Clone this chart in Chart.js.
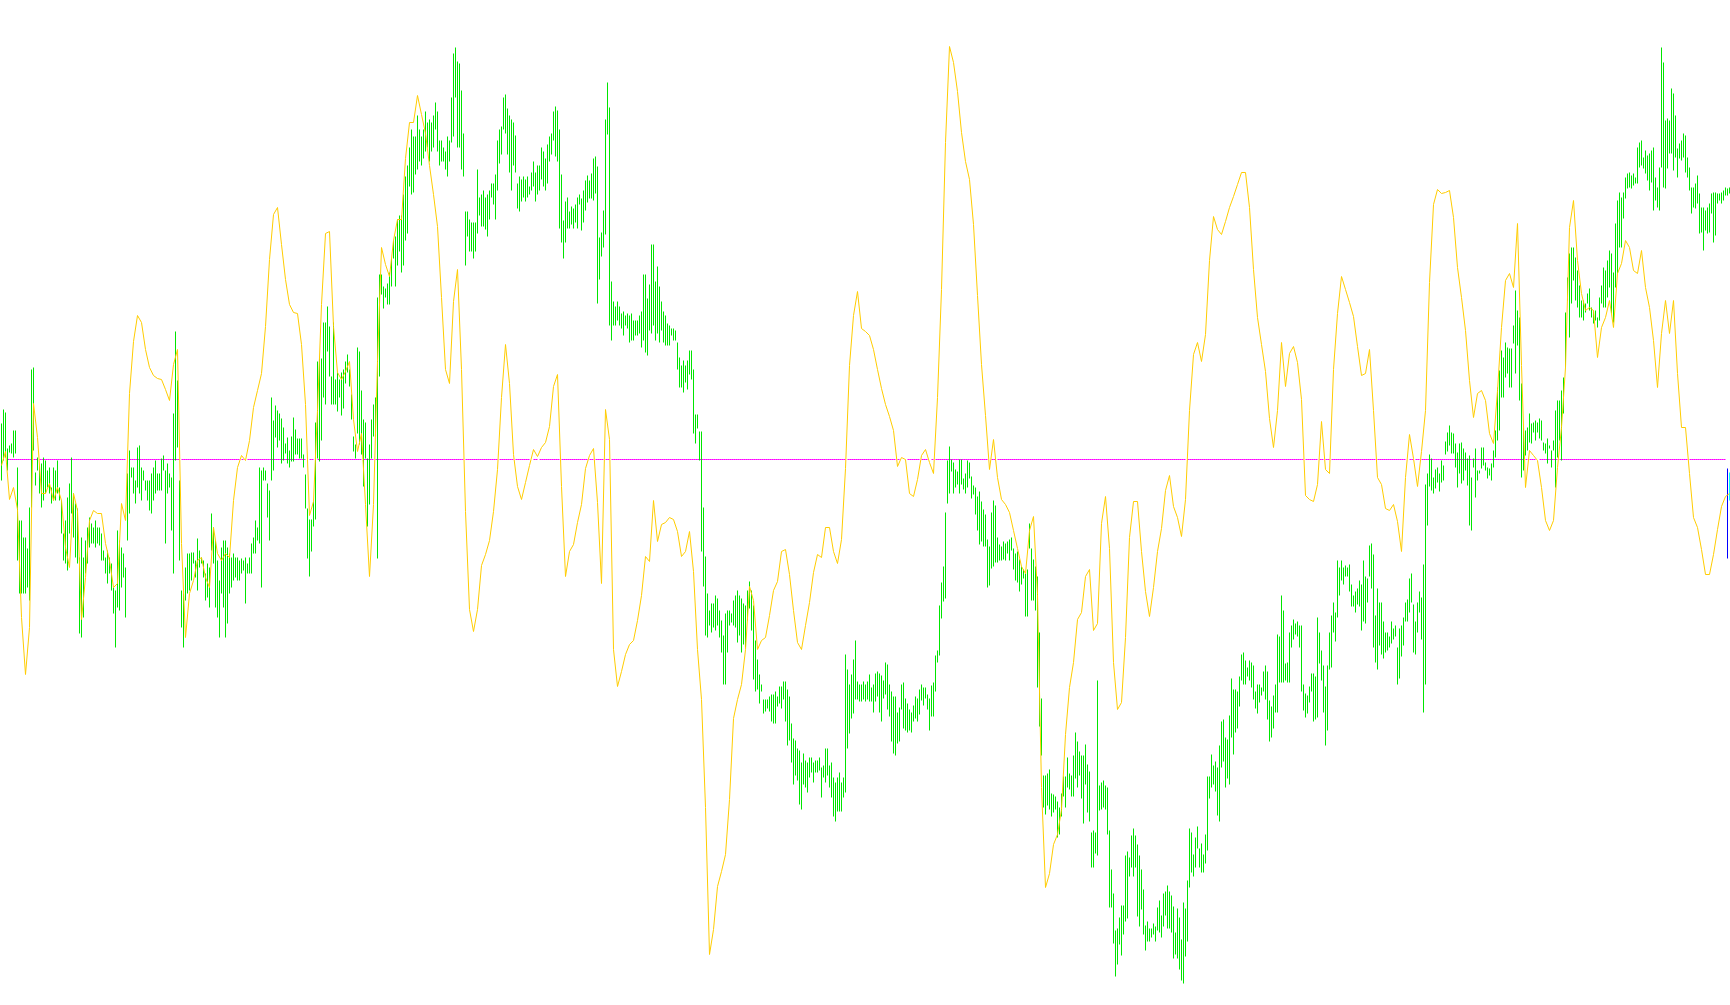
<!DOCTYPE html>
<html><head><meta charset="utf-8">
<script src="https://cdn.jsdelivr.net/npm/chart.js@4.4.1/dist/chart.umd.min.js"></script>
<style>html,body{margin:0;padding:0;background:#fff;overflow:hidden}#wrap{width:1730px;height:1005px;position:relative}</style>
</head><body><div id="wrap"><canvas id="c"></canvas></div>
<script>
// Green range bars: high and low of each bar (one bar per category index)
const barHigh = [
36,50,47,11,14,16,29,29,-8,-61,
-61,-78,-78,-89,-48,90,92,-13,2,-6,
-4,2,-1,-11,-8,-28,-8,-11,-1,-28,
-41,-74,-61,-38,-24,2,-34,-44,-49,-98,
-78,-98,-81,-68,-58,-64,-68,-61,-68,-68,
-74,-91,-98,-91,-98,-104,-128,-131,-71,-81,
-88,-94,-108,-14,9,-8,-8,-21,12,14,
-8,-11,-21,-21,-21,-14,-8,-1,-14,-14,
1,4,-11,-4,-14,-18,46,128,79,-21,
-131,-134,-108,-94,-94,-93,-93,-101,-79,-91,
-98,-101,-114,-104,-108,-54,-68,-81,-101,-121,
-88,-81,-81,-88,-94,-98,-94,-98,-98,-101,
-99,-101,-98,-104,-98,-84,-78,-61,-68,-8,
-11,-8,-11,-24,-31,62,39,54,49,46,
41,32,16,22,9,
23,42,30,21,21,21,5,-15,-49,-60,
-60,-42,37,98,101,101,137,137,153,133,
83,137,80,87,80,87,90,98,105,90,
65,23,15,112,108,69,40,37,1,15,
40,55,62,162,185,185,173,171,176,187,
201,219,223,240,244,244,265,283,294,312,
330,323,323,344,330,323,330,348,337,340,
337,344,357,348,319,319,312,308,323,319,
362,406,412,398,396,369,326,248,248,240,
237,237,237,290,262,265,269,262,265,269,
276,276,285,319,330,333,362,365,351,344,
340,337,324,276,283,280,283,280,283,273,
287,298,287,294,294,312,308,301,315,323,
326,348,353,349,330,285,239,258,262,248,
253,251,255,262,265,
261,269,279,284,279,286,301,303,293,222,
227,249,340,377,352,178,158,153,158,153,
146,148,144,146,144,146,139,139,139,144,
148,185,185,161,175,215,215,178,193,173,
158,148,144,136,134,131,131,129,117,102,
94,99,94,99,109,109,90,45,45,28,
28,-48,-97,-134,-151,-144,-144,-136,-139,-151,
-161,-176,-154,-151,-151,-154,-141,-136,-131,-136,
-139,-144,-146,-131,-122,-131,-146,-181,-200,-215,
-225,-240,-240,-240,-237,-235,-235,-232,-237,-227,
-227,-222,-222,-230,-237,-264,-279,-281,-289,-291,
-303,-294,-301,-303,-298,-298,-303,-301,-301,-298,
-308,-306,-289,-289,-306,-303,-318,-323,-318,-313,
-323,-318,-195,-210,-225,-215,-200,-181,-222,-225,
-225,-222,-225,-222,-215,
-228,-225,-214,-212,-214,-216,-221,-203,-205,-225,
-232,-237,-237,-253,-248,-225,-223,-239,-244,-250,
-253,-246,-237,-239,-230,-225,-228,-228,-235,-239,
-226,-223,-196,-191,-146,-123,-107,-53,-1,13,
0,-3,-10,-12,0,0,-19,-14,-1,-3,
-17,-26,-28,-37,-32,-42,-50,-55,-80,-87,
-53,-41,-46,-78,-85,-87,-82,-84,-82,-80,
-78,-89,-94,-92,-100,-107,-110,-114,-110,-64,
-89,-100,-107,-117,-173,-239,-316,-316,-314,-310,
-334,-335,-337,-342,-348,-334,-317,-317,-298,-314,
-316,-296,-273,-282,-292,-296,-296,-285,-305,-312,
-373,-371,-373,-221,-326,-323,-321,-326,-328,-371,
-410,-434,-471,-469,-458,-446,-446,-396,-392,-398,
-376,-369,-376,-385,-396,-410,-430,-466,-462,-469,
-469,-464,-467,-448,-441,
-456,-434,-432,-426,-432,-436,-447,-473,-449,-458,
-480,-443,-449,-421,-369,-373,-395,-378,-367,-389,
-384,-395,-375,-317,-317,-295,-306,-302,-308,-286,
-262,-260,-278,-280,-256,-219,-230,-230,-232,-217,
-195,-193,-201,-208,-201,-203,-206,-232,-225,-225,
-228,-212,-206,-212,-241,-247,-236,-225,-175,-177,
-136,-151,-204,-203,-173,-166,-160,-164,-162,-166,
-166,-225,-234,-236,-227,-214,-214,-217,-158,-173,
-191,-206,-227,-206,-173,-156,-143,-153,-101,-108,
-101,-108,-106,-108,-105,-125,-136,-132,-129,-121,
-125,-101,-117,-119,-86,-84,-95,-156,-129,-143,
-143,-162,-173,-173,-177,-162,-169,-166,-188,-169,
-166,-158,-143,-140,-119,-114,-145,-162,-143,-132,
-138,-105,-25,-14,5,1,-18,-10,-8,-14,
-1,-6,18,27,34,
27,26,16,7,16,17,11,7,1,4,
-18,1,11,-11,-11,12,12,-3,-8,-9,
-4,9,29,72,89,109,102,117,112,111,
111,134,169,149,142,76,32,29,32,46,
36,37,39,37,41,39,17,16,21,14,
9,19,49,59,59,69,82,147,182,206,
212,212,202,189,174,159,159,156,166,171,
152,149,149,142,162,174,192,189,199,209,
206,187,236,259,267,262,267,282,286,287,
284,286,282,312,317,319,302,309,304,306,
309,312,282,272,292,412,397,339,341,339,
371,366,344,311,316,319,326,324,302,292,
272,272,276,284,266,252,252,249,252,256,
266,267,267,266,266,267,269,272,271,272
];
const barLow = [
-21,-1,2,-11,7,6,2,6,-101,-134,
-134,-134,-134,-128,-141,-48,9,-26,-11,-34,
-48,-41,-34,-28,-34,-44,-41,-41,-34,-41,
-74,-101,-104,-111,-74,-54,-78,-98,-104,-174,
-178,-158,-114,-104,-88,-84,-84,-88,-84,-86,
-101,-101,-114,-124,-114,-131,-154,-188,-148,-151,
-128,-118,-158,-81,-54,-18,-34,-44,-28,-34,
-41,-21,-31,-41,-51,-54,-41,-34,-31,-31,
-31,-11,-84,-34,-28,-71,-114,-1,12,-101,
-168,-188,-141,-134,-131,-121,-104,-118,-131,-108,
-104,-118,-141,-138,-148,-91,-104,-148,-158,-178,
-134,-148,-178,-164,-134,-128,-121,-118,-121,-121,
-114,-111,-144,-114,-114,-114,-94,-94,-81,-84,
-128,-21,-21,-58,-81,-21,-11,22,12,19,
-4,-1,6,-4,-8,
-2,-2,5,5,1,1,-8,-49,-99,-117,
-92,-67,-60,1,-2,19,62,55,108,83,
55,55,55,48,62,44,51,76,87,73,
40,8,1,26,15,5,-27,1,-67,-45,
1,23,23,-99,83,165,151,162,155,155,
173,201,173,194,208,187,194,219,226,273,
265,267,285,290,298,294,301,308,312,298,
308,312,330,308,294,298,298,290,283,298,
317,323,362,312,312,290,283,194,223,208,
208,201,208,226,244,233,233,230,223,240,
262,255,240,269,296,305,330,326,305,287,
269,294,287,251,248,258,262,258,262,265,
269,273,258,265,269,280,273,269,276,298,
305,319,303,298,231,217,201,217,231,231,
235,231,237,231,255,
229,237,249,257,261,261,259,266,156,180,
203,212,225,325,134,119,134,134,139,134,
131,124,134,131,117,119,119,124,124,126,
112,119,107,104,129,126,134,119,126,117,
129,117,114,114,114,124,119,119,90,72,
72,67,77,70,85,80,26,16,31,-1,
-92,-127,-176,-178,-166,-173,-168,-171,-166,-178,
-193,-225,-225,-193,-166,-163,-166,-168,-183,-176,
-193,-185,-188,-161,-149,-171,-220,-232,-230,-244,
-232,-254,-252,-249,-252,-262,-264,-264,-247,-244,
-249,-240,-262,-286,-281,-303,-325,-316,-321,-345,
-350,-325,-328,-333,-318,-313,-323,-313,-313,-311,
-338,-318,-323,-316,-328,-338,-357,-362,-352,-352,
-352,-338,-333,-289,-274,-259,-254,-240,-240,-242,
-242,-240,-242,-240,-242,
-242,-253,-242,-237,-253,-262,-239,-235,-250,-257,
-282,-294,-296,-284,-282,-250,-269,-271,-273,-271,
-273,-262,-259,-262,-255,-241,-246,-239,-250,-271,
-257,-257,-232,-203,-196,-159,-142,-139,-44,-34,
-12,-34,-28,-25,-34,-25,-30,-34,-28,-19,
-39,-35,-55,-71,-85,-82,-87,-87,-128,-126,
-109,-107,-103,-103,-101,-101,-100,-101,-94,-101,
-91,-110,-121,-123,-132,-125,-119,-157,-157,-89,
-141,-141,-151,-228,-267,-296,-348,-355,-346,-350,
-357,-353,-350,-378,-375,-357,-337,-348,-328,-330,
-337,-337,-319,-328,-316,-339,-364,-325,-353,-362,
-408,-408,-394,-396,-351,-350,-348,-350,-375,-448,
-448,-484,-517,-505,-485,-496,-475,-462,-459,-417,
-408,-417,-408,-457,-467,-450,-475,-491,-482,-482,
-478,-475,-482,-471,-473,
-478,-467,-456,-469,-469,-473,-499,-495,-499,-510,
-521,-524,-497,-482,-428,-413,-417,-408,-389,-408,
-413,-413,-404,-391,-339,-328,-325,-332,-356,-362,
-308,-302,-328,-319,-325,-278,-295,-273,-269,-247,
-221,-225,-225,-217,-221,-228,-240,-249,-254,-243,
-236,-232,-240,-260,-282,-278,-269,-253,-253,-223,
-223,-223,-221,-223,-223,-188,-180,-175,-177,-188,
-232,-251,-258,-254,-243,-232,-262,-260,-258,-204,
-221,-253,-286,-271,-210,-208,-173,-182,-158,-136,
-121,-125,-117,-117,-132,-147,-147,-153,-145,-147,
-171,-162,-164,-143,-117,-129,-188,-203,-210,-186,
-195,-199,-193,-191,-188,-184,-180,-177,-225,-219,
-197,-186,-162,-162,-153,-143,-193,-195,-173,-153,
-180,-253,-225,-66,-27,-31,-34,-29,-23,-32,
-23,-21,5,8,14,
6,6,-8,-28,-14,-24,-21,-11,-26,-66,
-71,-8,-38,-21,-14,-9,-6,-11,-19,-16,
-21,-8,2,19,29,62,62,82,86,72,
72,116,86,114,59,-18,-11,4,9,17,
16,27,19,27,21,19,9,6,-4,11,
-8,9,-28,2,19,-1,46,92,159,122,
156,179,159,152,142,142,139,147,156,149,
142,136,139,132,139,156,152,152,162,172,
146,137,172,186,212,212,241,261,271,272,
271,274,276,276,292,294,291,286,279,269,
277,249,259,252,249,292,272,271,291,306,
306,289,302,282,301,299,302,287,282,269,
246,252,251,256,226,227,209,229,226,227,
246,217,224,256,259,256,259,264,264,266
];
// Gold signal line, one reading every `signalStep` bars
const signalStep = 2;
const signal = [
-6,8,-40,-28,-50,-158,-215,-168,56,22,
-34,-34,-24,-41,-28,-41,-88,-108,-34,-51,
-160,-118,-61,-51,-54,-54,-84,-101,-128,-124,
-44,-61,66,118,144,137,110,92,84,81,
80,70,59,95,110,-84,-178,-134,-121,-101,
-98,-118,-128,-68,-94,-101,-94,-98,-41,-8,
4,-1,19,52,69,86,133,200,245,252,
215,180,155,
147,146,115,55,-56,-42,49,155,226,228,
133,87,80,88,98,40,8,26,-45,-117,
-45,98,212,195,183,219,240,240,301,337,
337,364,345,326,294,265,233,162,90,76,
158,190,90,-52,-150,-172,-150,-106,-95,-81,
-52,-10,62,115,76,5,-27,-40,-23,-6,
10,3,12,17,33,73,85,-27,-117,-92,
-85,-63,
-45,-9,4,11,-43,-124,50,20,-190,-227,
-212,-195,-185,-181,-161,-136,-97,-102,-41,-82,
-65,-63,-58,-60,-72,-97,-92,-72,-112,-190,
-240,-348,-495,-470,-427,-412,-395,-340,-259,-240,
-225,-190,-127,-141,-190,-181,-178,-156,-131,-122,
-92,-90,-115,-151,-183,-190,-166,-143,-113,-95,
-98,-68,-68,-92,-104,-80,-9,94,144,168,
131,128,124,
110,90,71,55,43,29,-7,2,0,-34,
-37,-20,4,10,-3,-14,62,170,317,413,
397,368,327,298,280,235,164,95,44,-10,
20,-18,-40,-45,-53,-71,-89,-107,-114,-71,
-57,-135,-328,-428,-414,-385,-375,-350,-275,-228,
-203,-160,-153,-117,-110,-171,-164,-64,-37,-89,
-203,-250,-243,-178,-78,-42,-42,-92,-132,-157,
-128,-92,
-69,-31,-16,-47,-58,-77,-40,49,105,117,
98,125,199,243,230,225,238,252,263,275,
287,287,252,190,142,115,88,41,12,49,
117,73,106,113,97,60,-36,-40,-42,-25,
38,-10,-14,90,146,183,170,157,143,113,
84,86,110,49,-18,-25,-49,-51,-45,-62,
-92,-18,25,1,-27,8,49,177,255,270,
266,267,269,
242,192,162,129,79,42,66,69,59,26,
16,69,132,179,186,172,236,94,-28,9,
4,-1,-28,-61,-71,-61,-8,32,92,232,
259,199,166,149,152,149,102,132,142,159,
132,186,196,219,212,189,186,209,172,152,
119,72,126,159,126,159,86,32,32,-14,
-58,-68,-90,-115,-115,-95,-70,-47,-37,-34
];
const zeroLevel = 0;
const tailBlue = [-99, -9];
const tailCyan = [-41, -13];
const valueMin = -545.5, valueMax = 459.5;

const n = barHigh.length;
const bars = barHigh.map((h, i) => ({x: i, y: [barLow[i], h]}));
const sig = signal.map((v, j) => ({x: j * signalStep, y: v}));
function sigAt(i) {
  const t = i / signalStep, j = Math.floor(t);
  if (j >= signal.length - 1) return signal[signal.length - 1];
  const f = t - j;
  return signal[j] * (1 - f) + signal[j + 1] * f;
}
const zero = [];
for (let i = 0; i < n - 2; i++) zero.push({x: i, y: zeroLevel});
function gapAt(i) {
  const a = sigAt(i), b = sigAt(i + 1);
  return Math.abs(a) < 4 || (a > 0) !== (b > 0);
}

new Chart(document.getElementById('c'), {
  type: 'bar',
  data: {datasets: [
    {type: 'line', data: sig, borderColor: '#ffcc00', borderWidth: 1, pointRadius: 0, tension: 0, order: 0},
    {type: 'bar', data: bars, backgroundColor: '#00e600', barThickness: 1, grouped: false, borderWidth: 0, inflateAmount: 0, order: 1},
    {type: 'bar', data: [{x: n - 2, y: tailBlue}], backgroundColor: '#0000ff', barThickness: 1, grouped: false, borderWidth: 0, inflateAmount: 0, order: 1},
    {type: 'bar', data: [{x: n - 1, y: tailCyan}], backgroundColor: '#00ffff', barThickness: 1, grouped: false, borderWidth: 0, inflateAmount: 0, order: 1},
    {type: 'line', data: zero, borderColor: '#ff00ff', borderWidth: 1, pointRadius: 0, tension: 0, order: 3,
      segment: {borderColor: ctx => gapAt(ctx.p0.parsed.x) ? 'rgba(255,255,255,0)' : '#ff00ff'}}
  ]},
  options: {
    responsive: true, maintainAspectRatio: false, animation: false, events: [],
    layout: {padding: 0},
    plugins: {legend: {display: false}, tooltip: {enabled: false}},
    scales: {
      x: {type: 'linear', display: false, min: -0.75, max: n - 0.75, offset: false},
      y: {display: false, min: valueMin, max: valueMax}
    }
  }
});
</script></body></html>
